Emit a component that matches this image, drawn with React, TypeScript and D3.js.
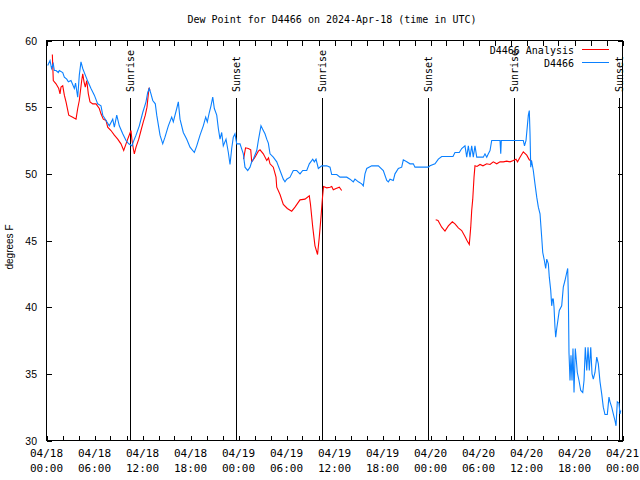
import React from 'react';
import * as d3 from 'd3';

const TITLE = 'Dew Point for D4466 on 2024-Apr-18 (time in UTC)';
const Y_LABEL = 'degrees F';
const START = Date.UTC(2024, 3, 18, 0, 0);
const END = Date.UTC(2024, 3, 21, 0, 0);
const yTicks = [30, 35, 40, 45, 50, 55, 60];

const sunLabels = ['Sunrise', 'Sunset', 'Sunrise', 'Sunset', 'Sunrise', 'Sunset'];
const sunHours = [10.47, 23.68, 34.47, 47.72, 58.43, 71.6];

// D4466 observations: hours since 2024-04-18 00:00 UTC, dew point (F)
const obsHours = [0.15,0.44,0.63,0.85,0.98,1.19,1.48,1.6,2.03,2.23,2.53,2.73,3.06,3.48,3.63,3.9,4.1,4.31,4.53,4.85,5.19,5.56,5.98,6.4,6.81,7.03,7.44,7.85,8.28,8.48,8.78,9.1,9.53,9.94,10.28,10.69,10.85,11.19,11.6,12.03,12.44,12.65,12.85,13.06,13.28,13.6,13.78,14.19,14.53,14.81,15.23,15.65,15.85,16.28,16.48,16.69,17.1,17.53,17.94,18.48,18.78,19.19,19.6,19.9,20.1,20.35,20.56,20.78,20.98,21.28,21.48,21.69,21.9,22.1,22.44,22.73,22.94,23.15,23.35,23.56,23.78,24.19,24.6,24.81,25.15,25.44,25.65,25.85,26.28,26.48,26.81,27.1,27.31,27.53,27.73,27.94,28.35,28.78,29.19,29.6,29.81,30.03,30.44,30.85,31.28,31.69,32.03,32.53,32.85,33.28,33.48,33.69,33.98,34.4,35.03,35.44,35.65,36.28,36.69,37.53,37.94,38.35,38.56,38.98,39.4,39.6,39.81,40.03,40.65,41.48,42.1,42.53,42.73,42.94,43.35,43.56,43.98,44.4,44.6,45.03,45.44,45.85,46.06,46.48,47.73,47.94,48.56,48.98,49.4,50.03,50.81,51.06,51.6,51.9,52.31,52.53,52.73,52.94,53.15,53.35,53.56,53.78,54.6,54.81,55.03,55.23,55.44,55.65,56.69,56.78,56.85,59.6,59.75,59.94,60.13,60.23,60.35,60.44,60.53,60.63,60.85,61.06,61.28,61.48,61.69,61.9,62.03,62.23,62.4,62.53,62.73,62.85,63.03,63.15,63.25,63.35,63.44,63.56,63.65,63.78,63.98,64.1,64.4,64.6,64.81,65.03,65.15,65.23,65.31,65.44,65.56,65.69,65.81,65.94,66.1,66.23,66.35,66.56,66.78,67.03,67.19,67.35,67.53,67.69,67.85,68.03,68.19,68.35,68.56,68.78,68.98,69.19,69.4,69.6,69.81,70.1,70.31,70.44,70.65,70.85,71.06,71.19,71.35,71.56,71.69,71.78];
const obsValues = [58.13,58.5,57.9,58.25,57.75,57.75,57.6,57.75,57.6,57.25,57.1,56.9,57.0,56.4,56.8,55.75,57.4,58.4,57.9,57.4,56.9,56.4,55.9,55.25,55.1,54.4,54.0,53.6,54.1,53.5,54.4,53.6,53.0,52.5,52.25,52.1,52.4,52.9,53.6,54.6,55.4,56.1,56.4,56.0,55.5,55.25,54.4,52.9,52.25,52.75,53.6,54.25,53.9,54.9,55.4,54.1,53.1,52.6,52.0,51.6,52.1,52.9,53.6,54.25,53.9,54.6,55.1,55.75,54.9,54.4,53.4,52.6,53.1,52.1,52.6,51.6,50.7,51.9,52.75,53.0,52.25,52.25,51.5,50.5,50.25,50.5,50.9,51.1,51.75,52.5,53.6,53.25,53.0,52.6,52.3,51.5,51.25,50.9,50.25,49.6,49.4,49.6,49.75,50.25,50.25,50.0,50.25,50.25,50.75,51.1,50.9,51.1,50.4,50.6,50.6,50.5,49.95,49.95,49.75,49.75,49.6,49.4,49.6,49.4,49.25,49.1,50.0,50.4,50.6,50.6,50.25,49.5,49.4,49.6,49.5,50.0,50.4,50.5,51.05,50.9,50.75,50.75,50.5,50.5,50.5,50.6,50.75,51.1,51.3,51.3,51.3,51.6,51.6,51.9,52.1,51.25,52.1,51.25,52.1,51.25,52.1,51.25,51.25,51.5,51.25,51.5,51.75,52.5,52.5,51.5,52.5,52.5,52.1,52.5,53.75,54.4,54.75,53.0,50.5,51.0,50.25,49.25,48.25,47.5,47.0,45.25,44.1,43.5,42.9,43.6,43.25,42.25,41.25,40.1,40.6,40.6,40.0,38.5,37.75,38.4,39.25,39.75,40.1,41.5,42.0,42.6,42.9,40.9,36.6,34.5,36.4,34.5,36.9,33.6,36.9,36.0,35.1,34.5,33.75,33.6,34.5,37.0,35.25,37.0,35.25,37.0,35.0,34.6,35.1,36.25,35.75,34.4,33.5,32.5,31.95,31.95,33.25,32.9,32.5,32.0,31.5,31.1,32.9,32.8,32.0,32.25];

// D4466 Analysis: NaN marks a gap in the series
const anaHours = [0.73,0.85,1.19,1.53,1.69,1.81,2.03,2.23,2.44,2.78,3.28,3.69,3.9,4.1,4.4,4.53,4.69,4.85,5.03,5.23,5.44,5.78,6.19,6.6,6.81,7.1,7.44,7.65,8.06,8.48,8.9,9.31,9.65,9.94,10.15,10.56,10.69,10.85,10.98,11.19,11.53,11.81,12.1,12.35,12.56,12.81,12.94,NaN,24.63,24.88,25.23,25.53,25.65,26.06,26.48,26.69,27.1,27.53,27.75,27.94,28.35,28.69,28.78,29.19,29.6,30.1,30.65,31.06,31.69,32.31,32.85,33.0,33.28,33.56,33.88,34.09,34.31,34.48,34.63,35.03,35.44,35.65,35.85,36.19,36.6,36.9,NaN,48.65,48.94,49.4,49.81,50.23,50.73,51.06,51.48,51.9,52.31,52.56,52.85,53.03,53.15,53.28,53.44,53.56,53.81,54.19,54.56,55.03,55.44,55.85,56.28,56.69,57.1,57.53,57.94,58.35,58.69,58.88,59.19,59.6,60.03,60.35,60.65];
const anaValues = [58.95,57.0,56.75,56.4,56.0,56.5,56.6,55.9,55.4,54.4,54.25,54.1,54.9,55.5,57.0,57.5,56.9,56.5,57.0,56.0,55.4,55.25,55.25,54.9,54.5,54.1,54.0,53.5,53.25,52.9,52.6,52.25,51.75,52.25,52.6,53.25,52.5,51.9,51.5,52.0,52.6,53.25,53.9,54.4,55.0,56.45,56.25,NaN,51.1,51.95,51.9,51.8,50.9,51.25,51.7,51.8,51.5,51.0,51.2,50.75,50.5,49.75,49.0,48.45,47.7,47.4,47.2,47.5,48.05,48.1,48.35,47.7,46.0,44.6,43.95,45.2,46.75,48.1,49.05,48.95,49.0,49.05,48.8,48.9,49.0,48.75,NaN,46.55,46.5,46.0,45.7,46.1,46.4,46.25,45.95,45.75,45.3,45.0,44.7,46.0,47.25,48.1,49.75,50.6,50.55,50.7,50.6,50.75,50.7,50.9,50.75,50.9,50.9,50.95,50.9,51.0,51.1,50.9,51.25,51.65,51.4,51.05,50.95];

const RED = '#ff0000';
const BLUE = '#0a80ff';
const MONO = '"DejaVu Sans Mono", monospace';
const SANS = '"Liberation Sans", Arial, sans-serif';

const toDate = (h: number) => new Date(START + h * 3600 * 1000);

export default function App() {
  const L = 46.5, R = 622.5, T = 40.5, B = 440.5;
  const x = d3.scaleUtc().domain([new Date(START), new Date(END)]).range([L, R]);
  const y = d3.scaleLinear().domain([30, 60]).range([B, T]);

  const obs = obsHours.map((h, i) => ({ t: toDate(h), v: obsValues[i] }));
  const ana = anaHours.map((h, i) => ({ t: toDate(h), v: anaValues[i], ok: !isNaN(h) }));

  const line = d3.line<{ t: Date; v: number; ok?: boolean }>()
    .defined(d => d.ok !== false && !isNaN(d.v))
    .x(d => x(d.t))
    .y(d => y(d.v));

  const minorTicks = x.ticks(d3.utcHour.every(2)!);
  const labelTicks = x.ticks(d3.utcHour.every(6)!);
  const fmtDate = d3.utcFormat('%m/%d');
  const fmtTime = d3.utcFormat('%H:%M');

  return (
    <svg width={640} height={480} style={{ position: 'absolute', left: 0, top: 0, background: '#fff' }}>
      <rect x={0} y={0} width={640} height={480} fill="#fff" />
      <text x={332} y={23} textAnchor="middle" fontFamily={MONO} fontSize={10} fill="#000">{TITLE}</text>

      {/* sunrise / sunset */}
      {sunHours.map((h, i) => {
        const sx = Math.round(x(toDate(h))) + 0.5;
        return (
          <g key={'s' + i}>
            <line x1={sx} x2={sx} y1={98} y2={B} stroke="#000" strokeWidth={1} shapeRendering="crispEdges" />
            <text transform={`translate(${sx + 3.5},92) rotate(-90)`} fontFamily={MONO} fontSize={10} fill="#000">{sunLabels[i]}</text>
          </g>
        );
      })}

      {/* frame */}
      <rect x={L} y={T} width={R - L} height={B - T} fill="none" stroke="#000" strokeWidth={1} shapeRendering="crispEdges" />

      {/* x ticks */}
      {minorTicks.map((t, i) => {
        const tx = Math.round(x(t)) + 0.5;
        return (
          <g key={'xt' + i}>
            <line x1={tx} x2={tx} y1={B} y2={B - 5} stroke="#000" shapeRendering="crispEdges" />
            <line x1={tx} x2={tx} y1={T} y2={T + 5} stroke="#000" shapeRendering="crispEdges" />
          </g>
        );
      })}
      {labelTicks.map((t, i) => (
        <g key={'xl' + i} fontFamily={MONO} fontSize={11} fill="#000" textAnchor="middle">
          <text x={x(t)} y={457}>{fmtDate(t)}</text>
          <text x={x(t)} y={472}>{fmtTime(t)}</text>
        </g>
      ))}

      {/* y ticks */}
      {yTicks.map(v => {
        const ty = Math.round(y(v)) + 0.5;
        return (
          <g key={'yt' + v}>
            <line x1={L} x2={L + 5} y1={ty} y2={ty} stroke="#000" shapeRendering="crispEdges" />
            <line x1={R} x2={R - 5} y1={ty} y2={ty} stroke="#000" shapeRendering="crispEdges" />
            <text x={37} y={ty} dy="0.35em" textAnchor="end" fontFamily={SANS} fontSize={10.5} fill="#000">{v}</text>
          </g>
        );
      })}
      <text transform="translate(13,247) rotate(-90)" textAnchor="middle" fontFamily={SANS} fontSize={10} fill="#000">{Y_LABEL}</text>

      {/* data */}
      <path d={line(ana) || ''} fill="none" stroke={RED} strokeWidth={1.1} />
      <path d={line(obs) || ''} fill="none" stroke={BLUE} strokeWidth={1.1} />

      {/* legend */}
      <text x={574} y={50} dy="0.35em" textAnchor="end" fontFamily={MONO} fontSize={10} fill="#000">D4466 Analysis</text>
      <line x1={582} x2={609} y1={49.5} y2={49.5} stroke={RED} strokeWidth={1} shapeRendering="crispEdges" />
      <text x={574} y={63} dy="0.35em" textAnchor="end" fontFamily={MONO} fontSize={10} fill="#000">D4466</text>
      <line x1={582} x2={609} y1={62.5} y2={62.5} stroke={BLUE} strokeWidth={1} shapeRendering="crispEdges" />
    </svg>
  );
}
